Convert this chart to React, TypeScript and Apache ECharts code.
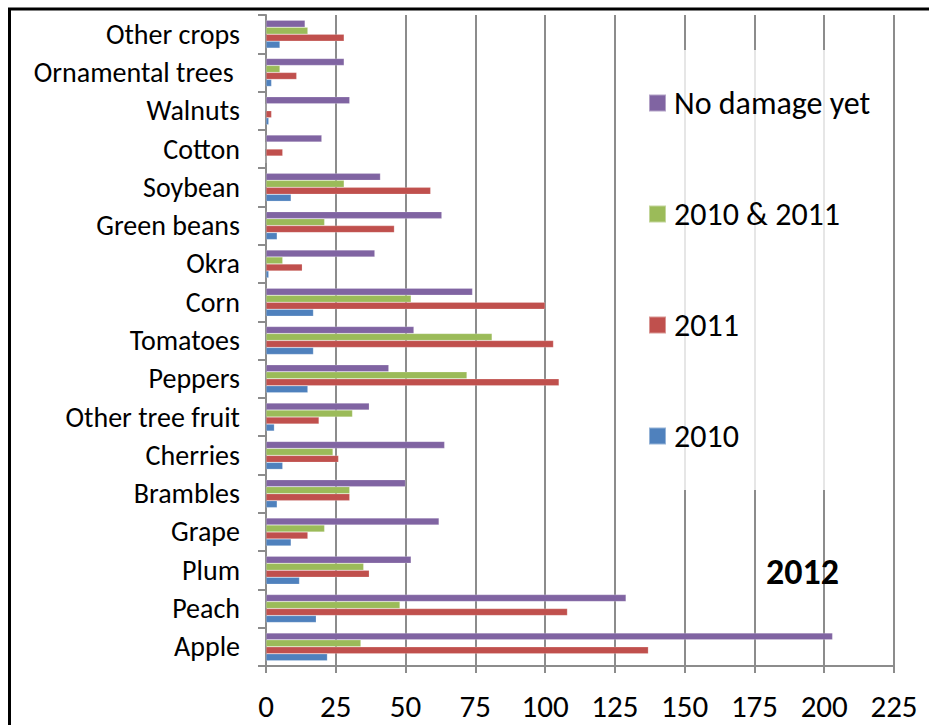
import React, { useEffect, useRef } from "react";
import * as echarts from "echarts";

const categories = [
  "Apple", "Peach", "Plum", "Grape", "Brambles", "Cherries", "Other tree fruit",
  "Peppers", "Tomatoes", "Corn", "Okra", "Green beans", "Soybean", "Cotton",
  "Walnuts", "Ornamental trees ", "Other crops",
];
const s2010 = [22, 18, 12, 9, 4, 6, 3, 15, 17, 17, 1, 4, 9, 0, 1, 2, 5];
const s2011 = [137, 108, 37, 15, 30, 26, 19, 105, 103, 100, 13, 46, 59, 6, 2, 11, 28];
const s2010and2011 = [34, 48, 35, 21, 30, 24, 31, 72, 81, 52, 6, 21, 28, 0, 0, 5, 15];
const sNoDamage = [203, 129, 52, 62, 50, 64, 37, 44, 53, 74, 39, 63, 41, 20, 30, 28, 14];
const xTicks = [0, 25, 50, 75, 100, 125, 150, 175, 200, 225];

const FONT = "Calibri, Carlito, Lato, 'Open Sans', sans-serif";

export default function App() {
  const ref = useRef<HTMLDivElement>(null);
  useEffect(() => {
    if (!ref.current) return;
    const chart = echarts.init(ref.current, null, { renderer: "svg" });
    const mk = (name: string, data: number[], color: string) => ({
      name,
      type: "bar",
      data,
      itemStyle: { color, borderColor: "rgba(255,255,255,0.4)", borderWidth: 0.5 },
      barGap: "0%",
      barCategoryGap: "27%",
    });
    chart.setOption({
      animation: false,
      backgroundColor: "#fff",
      textStyle: { fontFamily: FONT },
      grid: { left: 266, right: 35, top: 15, bottom: 59, containLabel: false },
      xAxis: {
        type: "value",
        min: xTicks[0],
        max: xTicks[xTicks.length - 1],
        interval: 25,
        axisLine: { show: true, lineStyle: { color: "#8c8c8c", width: 2 } },
        axisTick: { show: true, length: 7, lineStyle: { color: "#8c8c8c", width: 2 } },
        splitLine: { show: true, lineStyle: { color: "#8c8c8c", width: 2 } },
        axisLabel: { color: "#000", fontSize: 31, fontFamily: FONT, margin: 24 },
      },
      yAxis: {
        type: "category",
        data: categories,
        axisLine: { show: true, lineStyle: { color: "#8c8c8c", width: 2 } },
        axisTick: { show: true, length: 8, lineStyle: { color: "#8c8c8c", width: 2 } },
        axisLabel: { color: "#000", fontSize: 28, fontFamily: FONT, margin: 26 },
        splitLine: { show: false },
      },
      legend: {
        orient: "vertical",
        left: 643,
        top: 82,
        data: ["No damage yet", "2010 & 2011", "2011", "2010"],
        itemWidth: 17,
        itemHeight: 17,
        itemGap: 79,
        icon: "rect",
        textStyle: {
          color: "#000",
          fontSize: 32,
          fontFamily: FONT,
          lineHeight: 30,
          padding: [0, 0, 0, 3],
        },
      },
      graphic: [
        {
          type: "rect",
          z: 1,
          shape: { x: 616, y: 50, width: 276, height: 440 },
          style: { fill: "rgba(255,255,255,0.78)" },
        },
        {
          type: "text",
          z: 5,
          x: 766,
          y: 572,
          style: {
            text: "2012",
            fill: "#000",
            font: `bold 36px ${FONT}`,
            verticalAlign: "middle",
          },
        },
        {
          type: "rect",
          z: 10,
          shape: { x: 9.5, y: 9, width: 1000, height: 1000 },
          style: { fill: "none", stroke: "#000", lineWidth: 3 },
        },
      ],
      series: [
        mk("No damage yet", sNoDamage, "#8064A2"),
        mk("2010 & 2011", s2010and2011, "#9BBB59"),
        mk("2011", s2011, "#C0504D"),
        mk("2010", s2010, "#4F81BD"),
      ],
    });
    return () => chart.dispose();
  }, []);
  return (
    <div
      ref={ref}
      style={{ position: "absolute", left: 0, top: 0, width: 929, height: 725 }}
    />
  );
}
